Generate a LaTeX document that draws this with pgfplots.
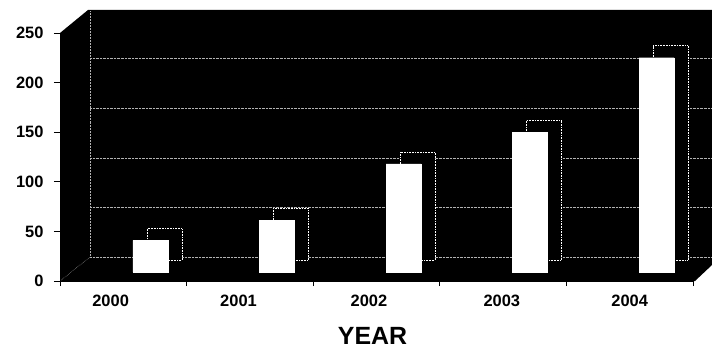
\documentclass[border=0pt]{standalone}
\usepackage{pgfplots}
\pgfplotsset{compat=1.18}
\usepackage{fontspec}
\setmainfont{Liberation Sans}

\pgfplotstableread{
x    v
0.5  32
1.5  52
2.5  109
3.5  141
4.5  216
}\datatable

\pgfplotsset{
  base/.style={
    scale only axis, width=633bp, height=248bp,
    xmin=0, xmax=5, ymin=0, ymax=250,
  },
}

\begin{document}
\begin{tikzpicture}
\path[use as bounding box] (-60bp,-69bp) rectangle (652bp,281bp);
% black 3D chart area
\fill[black] (0bp,0bp) -- (0bp,248bp) -- (28bp,271bp) -- (652bp,271bp) -- (652bp,16bp) -- (635bp,0bp) -- cycle;
\draw[gray!60, densely dotted, line width=0.5pt] (0bp,0bp) -- (30bp,24bp);
\draw[gray!60, densely dotted, line width=0.5pt] (30bp,24bp) -- (30bp,270bp);

% back wall grid
\begin{axis}[base, at={(30bp,24bp)}, anchor=south west,
  ytick={0,50,...,200}, yticklabels={},
  xtick=\empty,
  ymajorgrids,
  grid style={gray!60, densely dotted, line width=0.5pt},
  axis line style={draw=none}, major tick length=0pt,
]
\end{axis}

% bar back faces (3D depth outline)
\begin{axis}[base, at={(41bp,21bp)}, anchor=south west, hide axis, clip=false,
  ybar, bar width=35bp]
\addplot[fill=black, draw=white, densely dotted, line width=0.6pt] table[x=x, y=v] {\datatable};
\end{axis}

% bar front faces
\begin{axis}[base, at={(27bp,9bp)}, anchor=south west, hide axis, clip=false,
  ybar, bar width=35bp]
\addplot[fill=white, draw=white] table[x=x, y=v] {\datatable};
\end{axis}

% frame axis with ticks and labels
\begin{axis}[base, at={(0bp,0bp)}, anchor=south west, clip=false,
  axis x line*=bottom, axis y line*=left,
  axis line style={black, line width=0.8pt},
  tick align=outside,
  ytick={0,50,...,250}, yticklabels={0,50,100,150,200,250},
  xtick={0.40,1.41,2.44,3.49,4.50}, xticklabels={2000,2001,2002,2003,2004},
  minor xtick={0,1,...,5},
  major x tick style={draw=none},
  minor tick length=5bp,
  major tick length=6bp,
  tick style={black, line width=0.8pt},
  ticklabel style={font=\bfseries\fontsize{16.5}{16.5}\selectfont},
  yticklabel style={xshift=-7bp},
  xticklabel style={yshift=-5bp},
  xlabel={YEAR},
  xlabel style={at={(axis description cs:0.5,0)}, anchor=center, yshift=-55bp, xshift=-4bp,
    font=\bfseries\fontsize{25}{25}\selectfont},
]
\end{axis}
\end{tikzpicture}
\end{document}
